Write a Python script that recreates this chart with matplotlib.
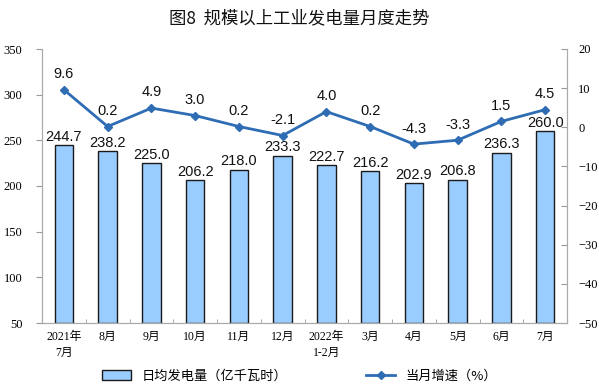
import matplotlib
matplotlib.use("Agg")
import matplotlib.pyplot as plt
import numpy as np

categories = ["2021年\n7月", "8月", "9月", "10月", "11月", "12月", "2022年\n1-2月", "3月", "4月", "5月", "6月", "7月"]
daily_gen = [244.7, 238.2, 225.0, 206.2, 218.0, 233.3, 222.7, 216.2, 202.9, 206.8, 236.3, 260.0]
growth = [9.6, 0.2, 4.9, 3.0, 0.2, -2.1, 4.0, 0.2, -4.3, -3.3, 1.5, 4.5]

cjk = ["Noto Sans CJK SC", "DejaVu Sans"]
serif = ["Liberation Serif", "Noto Sans CJK SC"]

fig = plt.figure(figsize=(5.99, 3.86), dpi=100)
ax = fig.add_axes([42/599, 1-323/386, (567-42)/599, (323-49)/386])
ax2 = ax.twinx()

x = np.arange(len(categories))
bar_color = "#99CCFF"
line_color = "#2E6DB4"
ax.bar(x, [v - 50 for v in daily_gen], bottom=50, width=0.42, color=bar_color,
       edgecolor="#1a1a1a", linewidth=1.0, zorder=2, label="日均发电量（亿千瓦时）")
for xi, v in zip(x, daily_gen):
    ax.text(xi, v + 1.5, f"{v:.1f}", ha="center", va="bottom", fontsize=10.5,
            family="Liberation Sans", color="#111111")

ax.set_ylim(50, 350)
ax.set_yticks(range(50, 351, 50))
ax.set_xlim(-0.5, len(categories) - 0.5)
ax.set_xticks(x)
ax.set_xticklabels(categories, family=serif, fontsize=8.5, linespacing=1.4)
ax.set_xticks(np.arange(-0.5, len(categories), 1), minor=True)
ax.tick_params(axis="x", which="major", length=0, pad=6)
ax.tick_params(axis="x", which="minor", length=3, color="#999999", direction="in")
ax.tick_params(axis="y", length=4, color="#999999", labelsize=9, pad=10)
for lab in ax.get_yticklabels():
    lab.set_family(serif)

ax2.plot(x, growth, color=line_color, linewidth=2, marker="D", markersize=4.5, zorder=3,
         label="当月增速（%）")
for xi, g in zip(x, growth):
    ax2.text(xi, g + 2.2, f"{g:.1f}", ha="center", va="bottom", fontsize=10.5,
             family="Liberation Sans", color="#111111")
ax2.set_ylim(-50, 20)
ax2.set_yticks(range(-50, 21, 10))
ax2.tick_params(axis="y", length=4, color="#999999", direction="in", labelsize=9, pad=8)
for lab in ax2.get_yticklabels():
    lab.set_family(serif)

for a in (ax, ax2):
    a.spines["top"].set_visible(False)
    for s in ("left", "right", "bottom"):
        a.spines[s].set_color("#aaaaaa")
        a.spines[s].set_linewidth(0.8)

fig.text(0.5, 1 - 18/386, "图8  规模以上工业发电量月度走势", ha="center", va="center",
         fontsize=12.5, family=cjk, color="#111111")

h1, l1 = ax.get_legend_handles_labels()
h2, l2 = ax2.get_legend_handles_labels()
fig.legend(h1 + h2, l1 + l2, loc="center", bbox_to_anchor=(0.5, 1 - 376/386), ncol=2,
           frameon=False, prop={"family": cjk, "size": 9.5}, columnspacing=6,
           handlelength=2.2, handleheight=0.8)

fig.savefig("out.png", dpi=100)
